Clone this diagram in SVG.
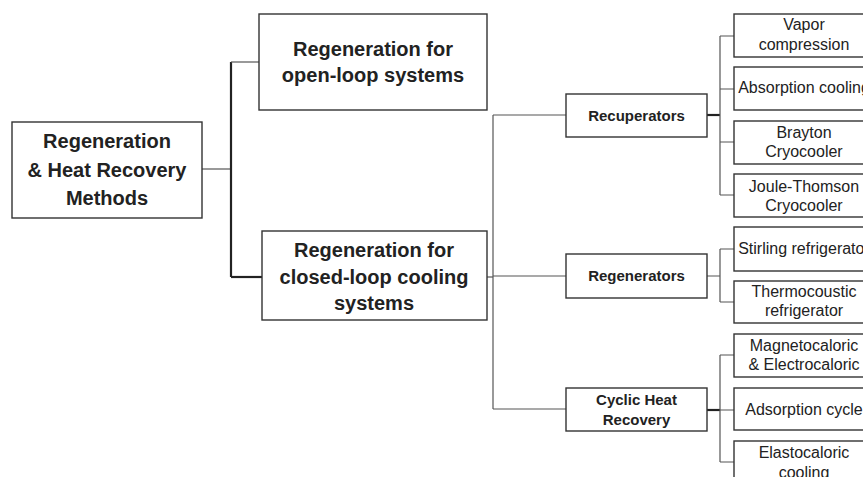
<svg xmlns="http://www.w3.org/2000/svg" width="863" height="477" viewBox="0 0 863 477">
<style>
.box{fill:#fff;stroke:#333;stroke-width:1.4}
.t{font-family:"Liberation Sans",Arial,sans-serif;fill:#222;text-anchor:middle}
.b20{font-size:20px;font-weight:bold}
.b14{font-size:15px;font-weight:bold}
.r16{font-size:16px}
.thin{fill:none;stroke:#555;stroke-width:1.2}
.thick{fill:none;stroke:#222;stroke-width:2.2}
</style>
<rect width="863" height="477" fill="#fff"/>
<g id="connectors">
<path class="thin" d="M202 169H231"/>
<path class="thick" d="M231 62V277"/>
<path class="thin" d="M231 62H259"/>
<path class="thick" d="M231 277H262"/>
<path class="thin" d="M487 277H493"/>
<path class="thin" d="M493 115V409"/>
<path class="thin" d="M493 115H566M493 276H566M493 409H566"/>
<path class="thick" d="M707 115H720"/>
<path class="thin" d="M720 36V195M720 36H734M720 89H734M720 142H734M720 195H734"/>
<path class="thin" d="M707 276H720M720 249V302M720 249H734M720 302H734"/>
<path class="thick" d="M707 410H720"/>
<path class="thin" d="M720 355V462M720 355H734M720 410H734M720 462H734"/>
</g>
<g id="root">
<rect class="box" x="12" y="122" width="190" height="96"/>
<text class="t b20" x="107" y="148">Regeneration</text>
<text class="t b20" x="107" y="177">&amp; Heat Recovery</text>
<text class="t b20" x="107" y="205">Methods</text>
</g>
<g id="open-loop">
<rect class="box" x="259" y="14" width="228" height="96"/>
<text class="t b20" x="373" y="56">Regeneration for</text>
<text class="t b20" x="373" y="82">open-loop systems</text>
</g>
<g id="closed-loop">
<rect class="box" x="262" y="231" width="225" height="89"/>
<text class="t b20" x="374" y="257">Regeneration for</text>
<text class="t b20" x="374" y="284">closed-loop cooling</text>
<text class="t b20" x="374" y="310">systems</text>
</g>
<g id="recuperators">
<rect class="box" x="566" y="94" width="141" height="43"/>
<text class="t b14" x="636.5" y="120.5">Recuperators</text>
</g>
<g id="regenerators">
<rect class="box" x="566" y="254" width="141" height="44"/>
<text class="t b14" x="636.5" y="280.5">Regenerators</text>
</g>
<g id="cyclic">
<rect class="box" x="566" y="388" width="141" height="43"/>
<text class="t b14" x="636.5" y="405">Cyclic Heat</text>
<text class="t b14" x="636.5" y="424.5">Recovery</text>
</g>
<g id="vapor">
<rect class="box" x="734" y="14" width="145" height="43"/>
<text class="t r16" x="804" y="30">Vapor</text>
<text class="t r16" x="804" y="50">compression</text>
</g>
<g id="absorption">
<rect class="box" x="734" y="67" width="145" height="43"/>
<text class="t r16" x="804" y="93">Absorption cooling</text>
</g>
<g id="brayton">
<rect class="box" x="734" y="121" width="145" height="43"/>
<text class="t r16" x="804" y="137.5">Brayton</text>
<text class="t r16" x="804" y="157">Cryocooler</text>
</g>
<g id="joule">
<rect class="box" x="734" y="174" width="145" height="43"/>
<text class="t r16" x="804" y="192">Joule-Thomson</text>
<text class="t r16" x="804" y="211">Cryocooler</text>
</g>
<g id="stirling">
<rect class="box" x="734" y="227" width="145" height="44"/>
<text class="t r16" x="804" y="253.5">Stirling refrigerator</text>
</g>
<g id="thermo">
<rect class="box" x="734" y="281" width="145" height="42"/>
<text class="t r16" x="804" y="296.5">Thermocoustic</text>
<text class="t r16" x="804" y="316">refrigerator</text>
</g>
<g id="magneto">
<rect class="box" x="734" y="334" width="145" height="43"/>
<text class="t r16" x="804" y="351">Magnetocaloric</text>
<text class="t r16" x="804" y="370">&amp; Electrocaloric</text>
</g>
<g id="adsorption">
<rect class="box" x="734" y="388" width="145" height="42"/>
<text class="t r16" x="804" y="415">Adsorption cycle</text>
</g>
<g id="elasto">
<rect class="box" x="734" y="441" width="145" height="43"/>
<text class="t r16" x="804" y="458">Elastocaloric</text>
<text class="t r16" x="804" y="478">cooling</text>
</g>
</svg>
